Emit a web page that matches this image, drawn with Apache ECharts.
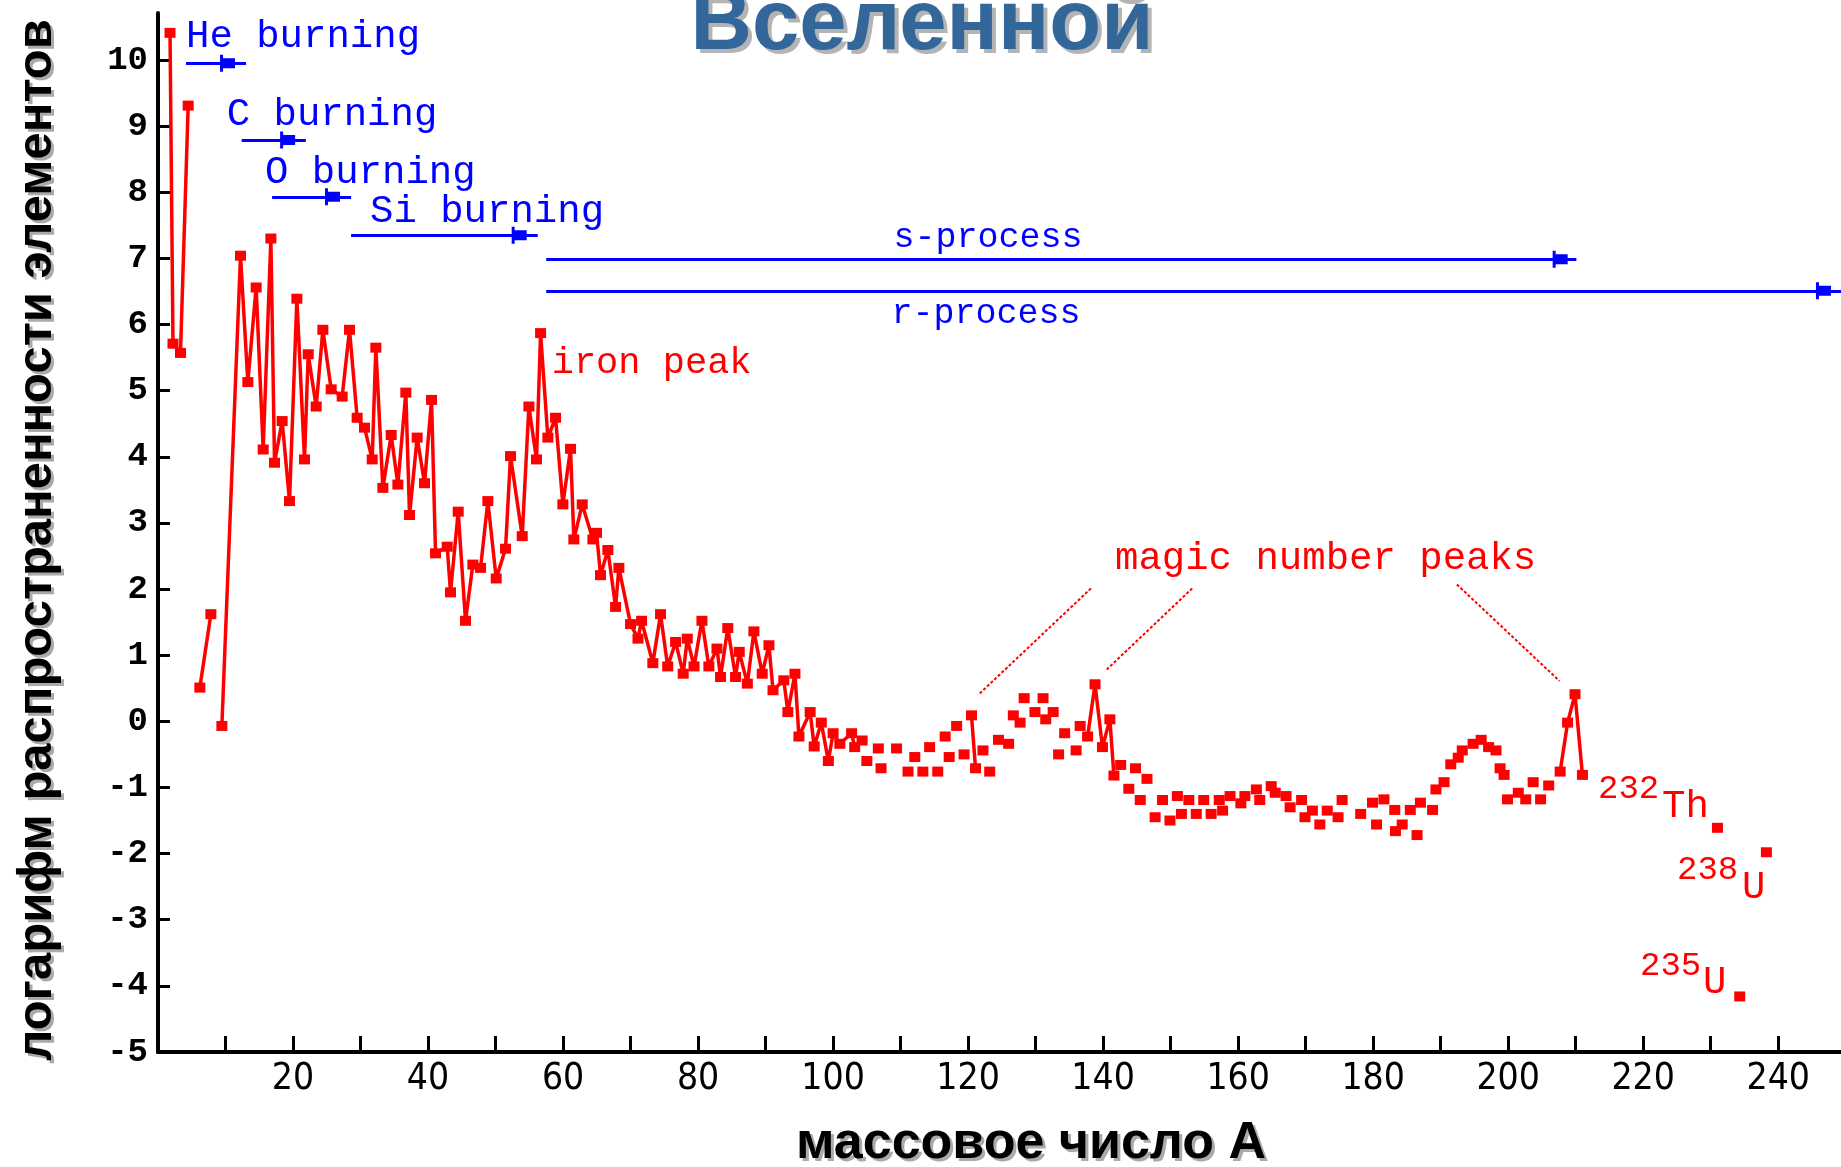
<!DOCTYPE html>
<html>
<head>
<meta charset="utf-8">
<script src="https://cdn.jsdelivr.net/npm/echarts@6.0.0/dist/echarts.min.js"></script>
<style>
  html, body { margin: 0; padding: 0; background: #fff; }
  #chart { width: 1841px; height: 1167px; }
</style>
</head>
<body>
<div id="chart"></div>
<script>
/* global echarts */
// mass number A / log abundance
const lightA = [1.78, 2.22, 3.33, 4.47];
const lightLog = [10.41, 5.71, 5.57, 9.31];

const lithiumA = [6.2, 7.83];
const lithiumLog = [0.51, 1.62];

const mainA = [
  9.46, 12.22, 13.31, 14.54, 15.58, 16.72, 17.26, 18.39, 19.48, 20.57,
  21.70, 22.25, 23.43, 24.42, 25.65, 27.28, 28.37, 29.50, 30.59, 31.73,
  32.27, 33.31, 34.54, 35.53, 36.71, 37.26, 38.39, 39.48, 40.52, 41.11,
  42.84, 43.33, 44.47, 45.55, 46.64, 47.78, 48.86, 50.10, 51.48, 52.22,
  53.95, 54.94, 56.07, 56.67, 57.75, 58.89, 59.97, 61.11, 61.60, 62.84,
  64.42, 64.96, 65.55, 66.64, 67.78, 68.27, 70.00, 71.10, 71.63, 73.30,
  74.44, 75.50, 76.67, 77.80, 78.40, 79.40, 80.57, 81.60, 82.80, 83.33,
  84.40, 85.55, 86.10, 87.30, 88.27, 89.50, 90.50, 91.10, 92.70, 93.30,
  94.35, 94.94, 96.60, 97.20, 98.25, 99.30, 100.00, 101.00, 102.74, 103.20,
  104.30, 105.00, 106.70, 107.10, 109.40, 111.10, 112.10, 113.30, 114.30, 115.50,
  116.60, 117.20, 118.30, 119.40, 120.50, 121.10, 122.20, 123.20, 124.50, 126.00,
  126.70, 127.70, 128.30, 129.90, 131.10, 131.50, 132.60, 133.40, 134.30, 136.00,
  136.60, 137.70, 138.80, 139.90, 141.00, 141.60, 142.60, 143.80, 144.80, 145.50,
  146.50, 147.70, 148.80, 149.90, 151.00, 151.60, 152.70, 153.80, 154.90, 156.00,
  157.20, 157.70, 158.80, 160.40, 161.00, 162.70, 163.20, 164.90, 165.50, 167.10,
  167.70, 169.40, 169.90, 171.00, 172.10, 173.20, 174.80, 175.40, 178.15, 179.90,
  180.50, 181.60, 183.20, 183.30, 184.30, 185.50, 186.50, 187.00, 188.80, 189.30,
  190.50, 191.50, 192.60, 193.20, 194.80, 196.00, 197.10, 198.20, 198.80, 199.40,
  199.90, 201.50, 202.60, 203.70, 204.80, 206.00, 207.70, 208.80, 209.90, 211.00
];
const mainLog = [
  -0.07, 7.04, 5.13, 6.56, 4.11, 7.30, 3.91, 4.54, 3.33, 6.39,
  3.96, 5.55, 4.76, 5.92, 5.02, 4.91, 5.92, 4.59, 4.44, 3.96,
  5.65, 3.53, 4.33, 3.58, 4.97, 3.12, 4.29, 3.60, 4.86, 2.54,
  2.64, 1.95, 3.17, 1.52, 2.37, 2.32, 3.33, 2.16, 2.61, 4.01,
  2.80, 4.76, 3.96, 5.87, 4.29, 4.59, 3.28, 4.12, 2.75, 3.28,
  2.75, 2.85, 2.21, 2.59, 1.73, 2.32, 1.47, 1.25, 1.52, 0.88,
  1.62, 0.83, 1.20, 0.72, 1.25, 0.83, 1.52, 0.83, 1.10, 0.67,
  1.41, 0.67, 1.05, 0.57, 1.36, 0.72, 1.15, 0.47, 0.62, 0.14,
  0.72, -0.23, 0.14, -0.38, -0.02, -0.60, -0.18, -0.34, -0.18, -0.39,
  -0.29, -0.60, -0.41, -0.71, -0.41, -0.76, -0.54, -0.76, -0.39, -0.76,
  -0.23, -0.54, -0.07, -0.50, 0.09, -0.71, -0.44, -0.76, -0.28, -0.34,
  0.09, -0.02, 0.35, 0.14, 0.35, 0.03, 0.14, -0.50, -0.18, -0.44,
  -0.07, -0.23, 0.56, -0.39, 0.03, -0.82, -0.66, -1.02, -0.71, -1.19,
  -0.87, -1.45, -1.19, -1.50, -1.13, -1.40, -1.19, -1.40, -1.19, -1.40,
  -1.19, -1.35, -1.13, -1.24, -1.13, -1.03, -1.19, -0.98, -1.08, -1.13,
  -1.30, -1.19, -1.45, -1.35, -1.56, -1.35, -1.45, -1.19, -1.40, -1.23,
  -1.56, -1.18, -1.34, -1.66, -1.56, -1.34, -1.72, -1.23, -1.34, -1.03,
  -0.92, -0.65, -0.55, -0.44, -0.34, -0.28, -0.39, -0.44, -0.71, -0.81,
  -1.18, -1.08, -1.18, -0.92, -1.18, -0.97, -0.76, -0.02, 0.41, -0.81
];

// A ranges where the picture joins neighbouring points with a line
const joinedRanges = [[9, 104.5], [120, 121.2], [137.5, 141.7], [207.5, 211.1]];

// 232Th, 235U, 238U
const actinideA = [231.0, 234.3, 238.25];
const actinideLog = [-1.61, -4.16, -1.98];

// burning stages / processes: A range of the arrow, arrow head, level
const stageFrom = [4.15, 12.4, 16.9, 28.6, 57.5, 57.5];
const stageTo = [13.04, 21.9, 28.6, 56.25, 210.1, 249.3];
const stageHead = [10.3, 19.2, 25.85, 53.5, 207.7, 246.7];
const stageLevel = [9.95, 8.79, 7.93, 7.35, 6.985, 6.51];

// pointers from "magic number peaks" to the peaks
const pointerFrom = [[138.2, 2.01], [153.2, 2.01], [192.4, 2.07]];
const pointerTo = [[121.5, 0.40], [140.4, 0.77], [207.6, 0.61]];

const yTicks = [-5, -4, -3, -2, -1, 0, 1, 2, 3, 4, 5, 6, 7, 8, 9, 10];
const xTicks = [10, 20, 30, 40, 50, 60, 70, 80, 90, 100, 110, 120, 130, 140, 150, 160, 170, 180, 190, 200, 210, 220, 230, 240];
const xLabels = [20, 40, 60, 80, 100, 120, 140, 160, 180, 200, 220, 240];

const RED = '#ff0000';
const BLUE = '#0000ff';
const MONO = '"Liberation Mono", "DejaVu Sans Mono", monospace';
const SANS = '"Liberation Sans", Arial, sans-serif';
const arrowHead = 'path://M0,0 L3,0 L3,3.5 L15,3.5 L15,13.5 L3,13.5 L3,17 L0,17 Z';

function zip(xs, ys) {
  return xs.map((x, i) => [x, ys[i]]);
}

// keep only the links whose two ends lie in one joined range; break elsewhere
function joinedPoints(xs, ys, ranges) {
  const out = [];
  let last = -2;
  const inRange = (a, b) => ranges.some(r => a >= r[0] && b <= r[1]);
  for (let i = 1; i < xs.length; i++) {
    if (!inRange(xs[i - 1], xs[i])) continue;
    if (last !== i - 1) {
      if (out.length) out.push(null);
      out.push([xs[i - 1], ys[i - 1]]);
    }
    out.push([xs[i], ys[i]]);
    last = i;
  }
  return out;
}

function redSeries(name, xs, ys) {
  return {
    name: name,
    type: 'line',
    data: zip(xs, ys),
    symbol: 'rect',
    symbolSize: [11, 10],
    itemStyle: { color: RED, opacity: 1 },
    lineStyle: { color: RED, width: 3.5 },
    emphasis: { disabled: true },
    silent: true,
    animation: false,
    z: 3
  };
}

function redDots(name, xs, ys) {
  return {
    name: name,
    type: 'scatter',
    data: zip(xs, ys),
    symbol: 'rect',
    symbolSize: [11, 10],
    itemStyle: { color: RED, opacity: 1 },
    emphasis: { disabled: true },
    silent: true,
    animation: false,
    z: 4
  };
}

function label(text, x, y, color, size, align, family, weight) {
  return {
    type: 'text',
    silent: true,
    style: {
      text: text, x: x, y: y,
      fill: color,
      font: (weight || 'normal') + ' ' + size + 'px ' + (family || MONO),
      textAlign: align || 'left',
      textVerticalAlign: 'middle'
    }
  };
}

const mainLinks = {
  name: 'main links',
  type: 'line',
  data: joinedPoints(mainA, mainLog, joinedRanges),
  connectNulls: false,
  symbol: 'none',
  lineStyle: { color: RED, width: 3.5 },
  emphasis: { disabled: true },
  silent: true,
  animation: false,
  z: 3,
  markLine: {
    silent: true,
    animation: false,
    symbol: ['none', 'none'],
    label: { show: false },
    emphasis: { disabled: true },
    data: stageFrom.map((a, i) => [
      { coord: [a, stageLevel[i]], lineStyle: { color: BLUE, width: 3, type: 'solid' } },
      { coord: [stageTo[i], stageLevel[i]] }
    ]).concat(pointerFrom.map((p, i) => [
      { coord: p, lineStyle: { color: RED, width: 2, type: [3, 2] } },
      { coord: pointerTo[i] }
    ]))
  },
  markPoint: {
    silent: true,
    animation: false,
    symbol: arrowHead,
    symbolSize: [15, 17],
    itemStyle: { color: BLUE, opacity: 1 },
    label: { show: false },
    data: stageHead.map((a, i) => ({ coord: [a, stageLevel[i]] }))
  }
};

const chart = echarts.init(document.getElementById('chart'));
chart.setOption({
  animation: false,
  backgroundColor: '#ffffff',
  grid: { left: 158, right: 0, top: 13, bottom: 115 },
  xAxis: {
    type: 'value',
    min: 0,
    max: 249.3,
    axisLine: { onZero: false, lineStyle: { color: '#000', width: 4 } },
    axisTick: { inside: true, length: 16, lineStyle: { color: '#000', width: 3 }, customValues: xTicks },
    axisLabel: {
      customValues: xLabels,
      color: '#000',
      fontSize: 37,
      fontFamily: '"Liberation Sans Narrow", "DejaVu Sans Condensed", sans-serif',
      margin: 9
    },
    splitLine: { show: false }
  },
  yAxis: {
    type: 'value',
    min: -5,
    max: 10.71,
    axisLine: { show: true, onZero: false, lineStyle: { color: '#000', width: 4 } },
    axisTick: { show: true, inside: true, length: 12, lineStyle: { color: '#000', width: 3 }, customValues: yTicks },
    axisLabel: {
      customValues: yTicks,
      color: '#000',
      fontSize: 34,
      fontWeight: 'bold',
      fontFamily: MONO,
      margin: 10
    },
    splitLine: { show: false }
  },
  series: [
    redSeries('light', lightA, lightLog),
    redSeries('lithium', lithiumA, lithiumLog),
    mainLinks,
    redDots('main', mainA, mainLog),
    redDots('actinides', actinideA, actinideLog)
  ],
  graphic: [
    // title with its shadow
    label('Вселенной', 926, 30, '#b4b4b4', 85, 'center', SANS, 'bold'),
    label('Вселенной', 922, 26, '#336699', 85, 'center', SANS, 'bold'),
    // axis names
    label('массовое число А', 1034, 1147, '#aaaaaa', 52, 'center', SANS, 'bold'),
    label('массовое число А', 1031, 1144, '#000000', 52, 'center', SANS, 'bold'),
    {
      type: 'group', x: 40, y: 543, rotation: Math.PI / 2, silent: true,
      children: [label('логарифм распространенности элементов', 0, 0, '#aaaaaa', 49, 'center', SANS, 'bold')]
    },
    {
      type: 'group', x: 37, y: 540, rotation: Math.PI / 2, silent: true,
      children: [label('логарифм распространенности элементов', 0, 0, '#000000', 49, 'center', SANS, 'bold')]
    },
    // burning stages
    label('He burning', 186, 36.3, BLUE, 39),
    label('C burning', 226.7, 114.6, BLUE, 39),
    label('O burning', 265, 172.9, BLUE, 39),
    label('Si burning', 370, 211.6, BLUE, 39),
    label('s-process', 988, 237.7, BLUE, 35, 'center'),
    label('r-process', 986, 314, BLUE, 35, 'center'),
    // red notes
    label('iron peak', 551.7, 363.4, RED, 37),
    label('magic number peaks', 1115, 559, RED, 39),
    label('232', 1598, 789, RED, 34),
    label('Th', 1662, 806.6, RED, 39),
    label('238', 1677, 870, RED, 34),
    label('U', 1742, 887.6, RED, 39),
    label('235', 1640, 966, RED, 34),
    label('U', 1703, 982.6, RED, 39)
  ]
});
</script>
</body>
</html>
